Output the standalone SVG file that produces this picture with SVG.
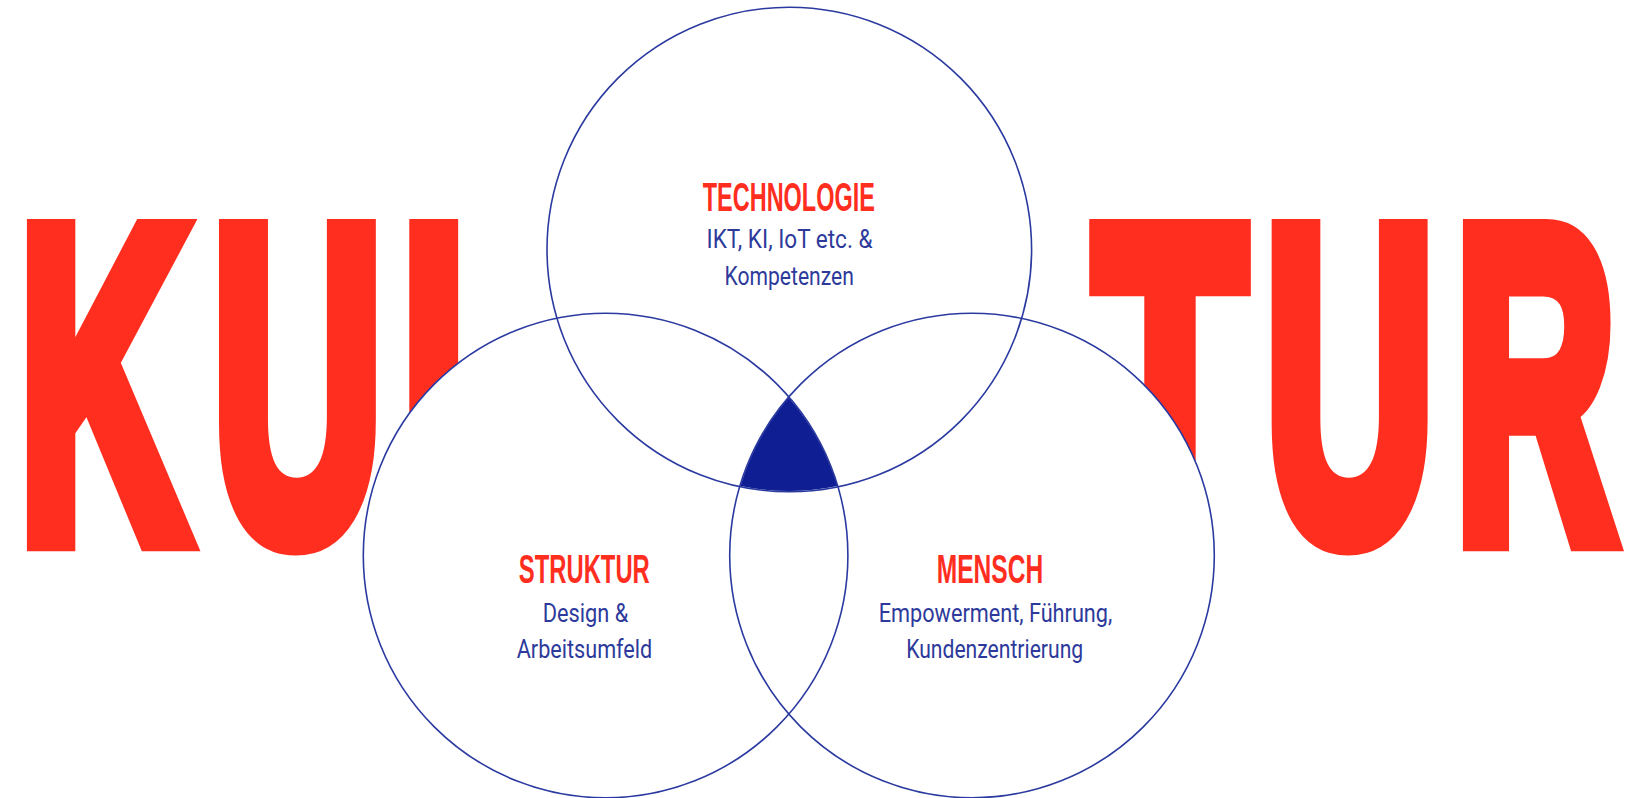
<svg xmlns="http://www.w3.org/2000/svg" width="1642" height="798" viewBox="0 0 1642 798">
  <style>
    .big { font-family: "Liberation Sans", Arial, sans-serif; font-weight: bold; font-size: 442px; fill: #ff2e1f; stroke: #ff2e1f; stroke-width: 28; stroke-linejoin: miter; stroke-miterlimit: 10; }
    .head { font-family: "Liberation Sans", Arial, sans-serif; font-weight: bold; font-size: 40.5px; fill: #ff2e1f; text-anchor: middle; }
    .sub { font-family: Roboto, "Liberation Sans", sans-serif; font-weight: 400; font-size: 26px; fill: #2d3a9b; text-anchor: middle; }
    .ring { fill: none; stroke: #2b3aa0; stroke-width: 1.6; }
    .mask { fill: #ffffff; stroke: none; }
  </style>
  <rect width="1642" height="798" fill="#ffffff"/>
  <g id="kultur-word">
    <text class="big" transform="translate(18.7,537.2) scale(0.528,1)">K</text>
    <text class="big" transform="translate(212.3,537.2) scale(0.534,1)">U</text>
    <text class="big" transform="translate(401,537.2) scale(0.533,1)">L</text>
    <text class="big" transform="translate(1094.3,537.2) scale(0.5606,1)">T</text>
    <text class="big" transform="translate(1265,537.2) scale(0.531,1)">U</text>
    <text class="big" transform="translate(1455.1,537.2) scale(0.503,1)">R</text>
  </g>
  <g id="circle-fills">
    <circle class="mask" cx="789.3" cy="249.5" r="242.3"/>
    <circle class="mask" cx="605.6" cy="555.5" r="242.3"/>
    <circle class="mask" cx="972" cy="555.5" r="242.3"/>
  </g>
  <g id="connectors"></g>
  <g id="core">
    <path d="M788.6,397.5 A242.3,242.3 0 0 1 837.6,486 A242.3,242.3 0 0 1 740.4,486 A242.3,242.3 0 0 1 788.6,397.5 Z" fill="#0f1e93"/>
  </g>
  <g id="node-technologie">
    <circle class="ring" cx="789.3" cy="249.5" r="242.3"/>
    <text class="head" x="788.8" y="210.7" textLength="172" lengthAdjust="spacingAndGlyphs">TECHNOLOGIE</text>
    <text class="sub" x="789.5" y="247.7" textLength="166" lengthAdjust="spacingAndGlyphs">IKT, KI, IoT etc. &amp;</text>
    <text class="sub" x="789.2" y="285" textLength="129.5" lengthAdjust="spacingAndGlyphs">Kompetenzen</text>
  </g>
  <g id="node-struktur">
    <circle class="ring" cx="605.6" cy="555.5" r="242.3"/>
    <text class="head" x="584.3" y="583.3" textLength="131" lengthAdjust="spacingAndGlyphs">STRUKTUR</text>
    <text class="sub" x="585.5" y="621.7" textLength="85.5" lengthAdjust="spacingAndGlyphs">Design &amp;</text>
    <text class="sub" x="584.5" y="657.5" textLength="135.5" lengthAdjust="spacingAndGlyphs">Arbeitsumfeld</text>
  </g>
  <g id="node-mensch">
    <circle class="ring" cx="972" cy="555.5" r="242.3"/>
    <text class="head" x="990" y="583.3" textLength="106.5" lengthAdjust="spacingAndGlyphs">MENSCH</text>
    <text class="sub" x="995.5" y="621.5" textLength="233.5" lengthAdjust="spacingAndGlyphs">Empowerment, Führung,</text>
    <text class="sub" x="994.7" y="657.5" textLength="177" lengthAdjust="spacingAndGlyphs">Kundenzentrierung</text>
  </g>
</svg>
